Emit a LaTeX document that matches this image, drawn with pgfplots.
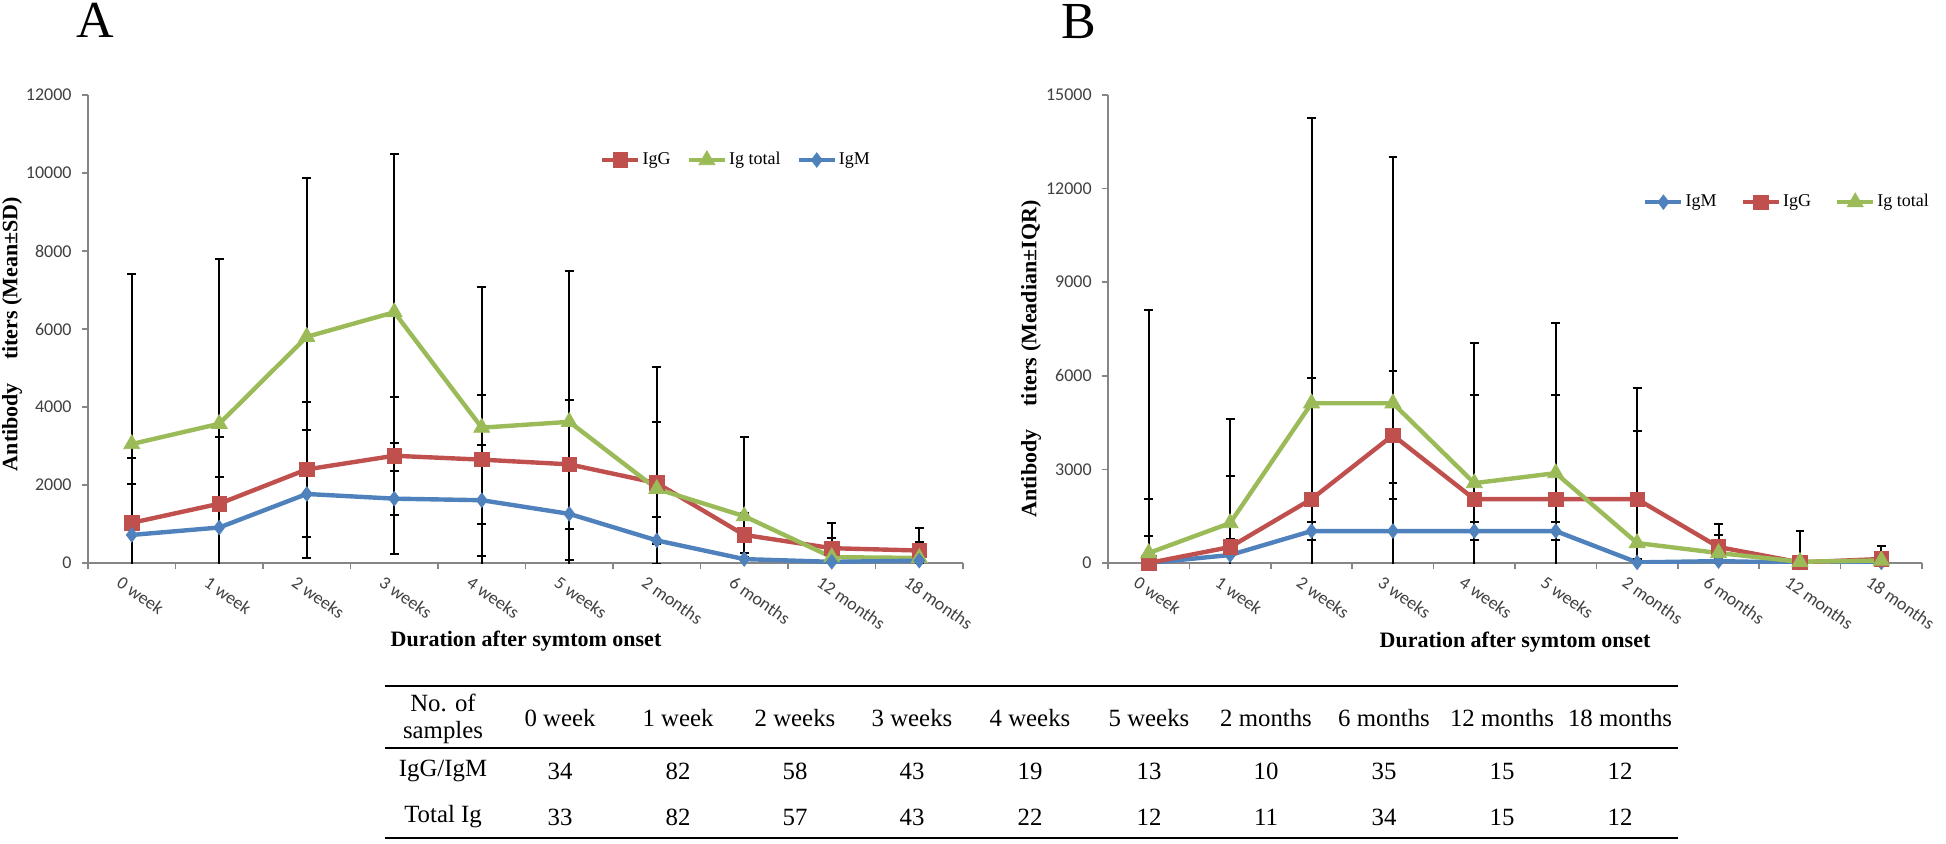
\documentclass[border=0pt]{standalone}
\usepackage{fontspec}
\setmainfont{Liberation Serif}
\newfontfamily\carlito{Carlito}
\usepackage{pgfplots}
\usepackage{pgfplotstable}
\pgfplotsset{compat=1.18}

\definecolor{cblue}{HTML}{4F81BD}
\definecolor{cred}{HTML}{C0504D}
\definecolor{cgreen}{HTML}{9BBB59}
\definecolor{axgray}{HTML}{868686}

% panel A: mean and SD
\pgfplotstableread{
x y e
1 1030 1660
2 1520 1710
3 2400 1730
4 2750 1510
5 2650 1660
6 2530 1650
7 2050 1560
8 720 560
9 380 640
10 320 580
}\Aigg
\pgfplotstableread{
x y e
1 3050 4360
2 3570 4230
3 5800 4070
4 6430 4070
5 3470 3610
6 3620 3880
7 1900 3120
8 1200 2040
9 150 500
10 130 400
}\Atot
\pgfplotstableread{
x y e
1 720 1300
2 910 1290
3 1770 1640
4 1650 1430
5 1610 1420
6 1260 1180
7 580 600
8 100 150
9 30 60
10 60 80
}\Aigm

% panel B: median and IQR
\pgfplotstableread{
x y e
1 0 870
2 256 500
3 1024 300
4 1024 1536
5 1024 300
6 1024 300
7 20 100
8 60 60
9 10 20
10 20 30
}\Bigm
\pgfplotstableread{
x y e
1 0 2050
2 512 2280
3 2048 3880
4 4096 2050
5 2048 3340
6 2048 3330
7 2048 2180
8 512 400
9 20 1000
10 128 420
}\Bigg
\pgfplotstableread{
x y e
1 320 7790
2 1280 3320
3 5120 9140
4 5120 7890
5 2560 4490
6 2880 4810
7 640 4970
8 320 930
9 40 200
10 80 150
}\Btot

\pgfplotsset{
  titer/.style={
    scale only axis, height=234pt, ymin=0,
    xmin=0.5, xmax=10.5,
    axis lines*=left,
    axis line style={axgray, line width=0.75pt},
    xtick={1,...,10},
    xticklabels={0 week,1 week,2 weeks,3 weeks,4 weeks,5 weeks,2 months,6 months,12 months,18 months},
    major x tick style={draw=none},
    minor xtick={0.5,1.5,...,10.5},
    minor x tick style={axgray, line width=0.75pt},
    ytick style={axgray, line width=0.75pt},
    major tick length=3pt, minor tick length=3pt,
    tick align=outside,
    scaled y ticks=false,
    x tick label style={rotate=-35, anchor=north west, inner sep=0pt,
      font=\carlito\fontsize{9}{10}\selectfont, text=black!75, xshift=-2pt, yshift=-5pt},
    y tick label style={inner sep=0pt, xshift=-5pt,
      font=\carlito\fontsize{9}{10}\selectfont, text=black!75},
    /pgf/number format/assume math mode=true,
    /pgf/number format/1000 sep={},
    legend style={draw=none, fill=none, font=\fontsize{9}{10}\selectfont,
      legend columns=-1, inner sep=0pt, nodes={inner sep=1pt}},
    legend image code/.code={\draw[mark repeat=2,mark phase=2,#1]
      plot coordinates {(0pt,0pt)(9pt,0pt)(18pt,0pt)};},
    error bars/y dir=both, error bars/y explicit,
    error bars/error bar style={black, line width=1pt, solid},
    error bars/error mark options={black, rotate=90, mark size=2.2pt, line width=1pt},
  },
  igm/.style={cblue, line width=2.2pt, mark=diamond*, mark size=3.6pt,
    mark options={solid, line width=0.4pt, fill=cblue}},
  igg/.style={cred, line width=2.2pt, mark=square*, mark size=3.6pt,
    mark options={solid, line width=0.4pt, fill=cred}},
  igt/.style={cgreen, line width=2.2pt, mark=triangle*, mark size=4.6pt,
    mark options={solid, line width=0.4pt, fill=cgreen}},
}

\begin{document}
\begin{tikzpicture}
\path[use as bounding box] (0,0) rectangle (973pt,421.5pt);

\begin{axis}[titer, at={(44pt,140pt)}, anchor=south west,
  width=437.5pt, ymax=12000, ytick={0,2000,...,12000},
  legend style={at={(rel axis cs:0.585,0.861)}, anchor=west,
    /tikz/every even column/.append style={column sep=7pt}}]
\addplot[igg] table[x=x,y=y,y error=e] {\Aigg};
\addlegendentry{IgG}
\addplot[igt] table[x=x,y=y,y error=e] {\Atot};
\addlegendentry{Ig total}
\addplot[igm] table[x=x,y=y,y error=e] {\Aigm};
\addlegendentry{IgM}
\end{axis}

\begin{axis}[titer, at={(554pt,140pt)}, anchor=south west,
  width=407pt, ymax=15000, ytick={0,3000,...,15000},
  legend style={at={(rel axis cs:0.657,0.771)}, anchor=west,
    /tikz/every even column/.append style={column sep=11pt}}]
\addplot[igm] table[x=x,y=y,y error=e] {\Bigm};
\addlegendentry{IgM}
\addplot[igg] table[x=x,y=y,y error=e] {\Bigg};
\addlegendentry{IgG}
\addplot[igt] table[x=x,y=y,y error=e] {\Btot};
\addlegendentry{Ig total}
\end{axis}

\begin{scope}[x=0.5pt, y=-0.5pt, shift={(0pt,421.5pt)}]
  \node[font=\fontsize{26}{28}\selectfont] at (95,20) {A};
  \node[font=\fontsize{26}{28}\selectfont] at (1079,22) {B};
  \node[rotate=90, font=\bfseries\fontsize{11}{12}\selectfont] at (12,334)
    {Antibody\hspace{0.8em} titers (Mean±SD)};
  \node[rotate=90, font=\bfseries\fontsize{11}{12}\selectfont] at (1031,359)
    {Antibody\hspace{0.8em} titers (Meadian±IQR)};
  \node[font=\bfseries\fontsize{11}{12}\selectfont] at (526,641) {Duration after symtom onset};
  \node[font=\bfseries\fontsize{11}{12}\selectfont] at (1515,642) {Duration after symtom onset};

  % sample count table
  \draw[line width=1.2pt] (385,686) -- (1678,686);
  \draw[line width=1.4pt] (385,748) -- (1678,748);
  \draw[line width=1.2pt] (385,838) -- (1678,838);
  \begin{scope}[font=\fontsize{12.4}{14}\selectfont]
    \node at (443,703) {No. of};
    \node at (443,733) {samples};
    \node at (443,771) {IgG/IgM};
    \node at (443,817) {Total Ig};
    \foreach \cx/\lab/\ra/\rb in {560/0 week/34/33, 678/1 week/82/82,
        795/2 weeks/58/57, 912/3 weeks/43/43, 1030/4 weeks/19/22,
        1149/5 weeks/13/12, 1266/2 months/10/11, 1384/6 months/35/34,
        1502/12 months/15/15, 1620/18 months/12/12} {
      \node at (\cx,718) {\lab};
      \node at (\cx,771) {\ra};
      \node at (\cx,817) {\rb};
    }
  \end{scope}
\end{scope}
\end{tikzpicture}
\end{document}
